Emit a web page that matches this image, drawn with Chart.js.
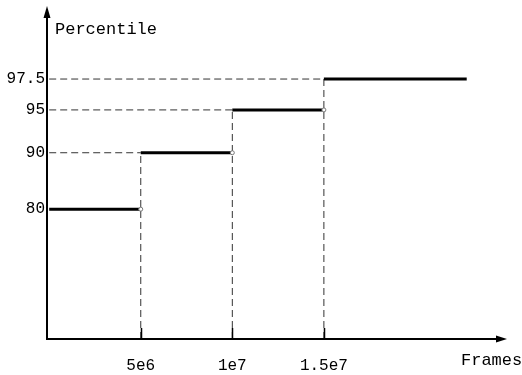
<!DOCTYPE html>
<html>
<head>
<meta charset="utf-8">
<script src="https://cdn.jsdelivr.net/npm/chart.js@4/dist/chart.umd.min.js"></script>
<style>
  body { margin: 0; background: #fff; }
  canvas { display: block; }
</style>
</head>
<body>
<canvas id="chart" width="522" height="375"></canvas>
<script>
// data
const frameBreaks = [0, 5e6, 1e7, 1.5e7, 2.28e7];
const percentiles = [80, 90, 95, 97.5];
const xTickValues = [5e6, 1e7, 1.5e7];
const xTickLabels = ['5e6', '1e7', '1.5e7'];
const yTickValues = [80, 90, 95, 97.5];
const yTickLabels = ['80', '90', '95', '97.5'];
const yFloor = 70;

// the y axis of the sketch is not linear, so map values through stops
const yStopValues = [70, 80, 90, 95, 97.5, 100];
const yStopFractions = [0, 0.391, 0.561, 0.69, 0.783, 1];

class StopScale extends Chart.LinearScale {
  getPixelForValue(value) {
    let f;
    if (value <= yStopValues[0]) f = yStopFractions[0];
    else if (value >= yStopValues[yStopValues.length - 1]) f = yStopFractions[yStopFractions.length - 1];
    else {
      for (let i = 1; i < yStopValues.length; i++) {
        if (value <= yStopValues[i]) {
          const t = (value - yStopValues[i - 1]) / (yStopValues[i] - yStopValues[i - 1]);
          f = yStopFractions[i - 1] + t * (yStopFractions[i] - yStopFractions[i - 1]);
          break;
        }
      }
    }
    return this.bottom - f * (this.bottom - this.top);
  }
}
StopScale.id = 'stops';
StopScale.defaults = Chart.LinearScale.defaults;
Chart.register(StopScale);

const font = "'Liberation Mono', 'DejaVu Sans Mono', monospace";

let datasets = [];
// steps
for (let i = 0; i < percentiles.length; i++) {
  datasets.push({
    data: [{x: frameBreaks[i], y: percentiles[i]}, {x: frameBreaks[i + 1], y: percentiles[i]}],
    borderColor: '#000',
    borderWidth: 3,
    pointRadius: [0, i < percentiles.length - 1 ? 2 : 0],
    pointBorderColor: '#777',
    pointBackgroundColor: '#fff',
    pointBorderWidth: 1
  });
}
// dashed guides
for (let i = 1; i < percentiles.length; i++) {
  const guide = {
    borderColor: '#333',
    borderWidth: 1,
    borderDash: [7, 4],
    pointRadius: 0
  };
  datasets.push(Object.assign({data: [{x: 0, y: percentiles[i]}, {x: frameBreaks[i], y: percentiles[i]}]}, guide));
  datasets.push(Object.assign({data: [{x: frameBreaks[i], y: yFloor}, {x: frameBreaks[i], y: percentiles[i]}]}, guide));
}

const noPad = s => { s.paddingTop = 0; s.paddingBottom = 0; s.paddingLeft = 0; s.paddingRight = 0; };

const axesPlugin = {
  id: 'axes',
  afterDatasetsDraw(chart) {
    const ctx = chart.ctx;
    const a = chart.chartArea;
    const xs = chart.scales.x;
    const left = 47, bottom = 339;
    ctx.save();
    ctx.strokeStyle = '#000';
    ctx.fillStyle = '#000';
    ctx.lineWidth = 2;
    ctx.beginPath();
    ctx.moveTo(left, bottom);
    ctx.lineTo(left, a.top + 8);
    ctx.moveTo(left - 1, bottom);
    ctx.lineTo(a.right - 6, bottom);
    ctx.stroke();
    // arrow heads
    ctx.beginPath();
    ctx.moveTo(left, a.top - 1);
    ctx.lineTo(left - 3.5, a.top + 11);
    ctx.lineTo(left + 3.5, a.top + 11);
    ctx.closePath();
    ctx.fill();
    ctx.beginPath();
    ctx.moveTo(a.right, bottom);
    ctx.lineTo(a.right - 11, bottom - 3.5);
    ctx.lineTo(a.right - 11, bottom + 3.5);
    ctx.closePath();
    ctx.fill();
    // tick marks
    ctx.lineWidth = 1.5;
    ctx.beginPath();
    xTickValues.forEach(v => {
      const px = Math.round(xs.getPixelForValue(v)) + 0.5;
      ctx.moveTo(px, bottom);
      ctx.lineTo(px, bottom - 11);
    });
    ctx.stroke();
    // axis titles
    ctx.font = '17px ' + font;
    ctx.textBaseline = 'alphabetic';
    ctx.textAlign = 'left';
    ctx.fillText('Percentile', 55, 34);
    ctx.fillText('Frames', 461, 365);
    ctx.restore();
  }
};

new Chart(document.getElementById('chart'), {
  type: 'line',
  data: { datasets: datasets },
  options: {
    responsive: false,
    animation: false,
    events: [],
    layout: { padding: { top: 7, right: 15, left: 0, bottom: 0 } },
    plugins: { legend: { display: false }, tooltip: { enabled: false } },
    scales: {
      x: {
        type: 'linear',
        min: -1.2e5,
        max: 2.5e7,
        grid: { display: false, drawTicks: false },
        border: { display: false },
        afterBuildTicks: s => { s.ticks = xTickValues.map(v => ({value: v})); },
        afterFit: s => { s.height = 36; noPad(s); },
        ticks: {
          autoSkip: false,
          maxRotation: 0,
          padding: 17,
          color: '#000',
          font: { family: font, size: 16 },
          callback: (v, i) => xTickLabels[i]
        }
      },
      y: {
        type: 'stops',
        min: yFloor,
        max: 100,
        grid: { display: false, drawTicks: false },
        border: { display: false },
        afterBuildTicks: s => { s.ticks = yTickValues.map(v => ({value: v})); },
        afterFit: s => { s.width = 47; noPad(s); },
        ticks: {
          autoSkip: false,
          padding: 2,
          color: '#000',
          font: { family: font, size: 16 },
          callback: (v, i) => yTickLabels[i]
        }
      }
    }
  },
  plugins: [axesPlugin]
});
</script>
</body>
</html>
